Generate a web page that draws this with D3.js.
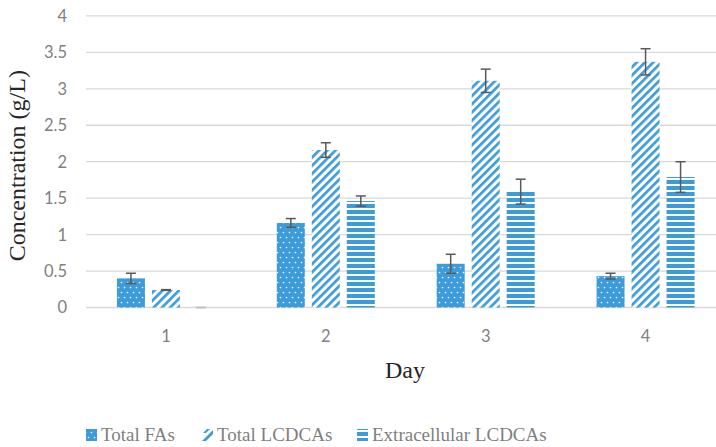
<!DOCTYPE html>
<html>
<head>
<meta charset="utf-8">
<script src="https://cdn.jsdelivr.net/npm/d3@7"></script>
<style>
  html, body { margin: 0; padding: 0; background: #ffffff; }
  svg { display: block; }
</style>
</head>
<body>
<svg id="chart" width="716" height="447"></svg>
<script>
// Days on the x axis
const days = ["1", "2", "3", "4"];
// Series names (legend order)
const seriesNames = ["Total FAs", "Total LCDCAs", "Extracellular LCDCAs"];
// Concentrations (g/L) per day
const totalFAs = [0.40, 1.16, 0.60, 0.43];
const totalLCDCAs = [0.24, 2.16, 3.11, 3.37];
const extracellularLCDCAs = [0.0, 1.46, 1.59, 1.79];
// Standard deviations per day
const totalFAsErr = [0.07, 0.06, 0.13, 0.04];
const totalLCDCAsErr = [0.005, 0.10, 0.16, 0.18];
const extracellularLCDCAsErr = [0.0, 0.07, 0.17, 0.21];
// Y axis ticks
const yTicks = [0, 0.5, 1, 1.5, 2, 2.5, 3, 3.5, 4];

const seriesValues = [totalFAs, totalLCDCAs, extracellularLCDCAs];
const seriesErrors = [totalFAsErr, totalLCDCAsErr, extracellularLCDCAsErr];
const patternIds = ["pat-dots", "pat-diag", "pat-horiz"];

const blue = "#3d9cd8";
const svg = d3.select("#chart");
const defs = svg.append("defs");

// Dotted fill
const pDots = defs.append("pattern").attr("id", "pat-dots")
  .attr("patternUnits", "userSpaceOnUse").attr("width", 6).attr("height", 10);
pDots.append("rect").attr("width", 6).attr("height", 10).attr("fill", blue);
pDots.append("circle").attr("cx", 1.5).attr("cy", 2.5).attr("r", 0.85).attr("fill", "#ffffff").attr("opacity", 0.9);
pDots.append("circle").attr("cx", 4.5).attr("cy", 7.5).attr("r", 0.85).attr("fill", "#ffffff").attr("opacity", 0.9);

// Wide upward diagonal fill
const pDiag = defs.append("pattern").attr("id", "pat-diag")
  .attr("patternUnits", "userSpaceOnUse").attr("width", 5.8).attr("height", 5.8)
  .attr("patternTransform", "rotate(45)");
pDiag.append("rect").attr("width", 5.8).attr("height", 5.8).attr("fill", "#ffffff");
pDiag.append("rect").attr("width", 2.7).attr("height", 5.8).attr("fill", blue);

// Horizontal line fill
const pHoriz = defs.append("pattern").attr("id", "pat-horiz")
  .attr("patternUnits", "userSpaceOnUse").attr("width", 6).attr("height", 6);
pHoriz.append("rect").attr("width", 6).attr("height", 6).attr("fill", "#ffffff");
pHoriz.append("rect").attr("y", 0).attr("width", 6).attr("height", 4).attr("fill", blue);

// Scales
const x = d3.scaleBand().domain(days).range([86, 725.5])
  .paddingInner(0.387).paddingOuter(0.1935);
const xs = d3.scaleBand().domain(d3.range(seriesNames.length)).range([0, x.bandwidth()])
  .paddingInner(0.2).paddingOuter(0);
const y = d3.scaleLinear().domain([0, 4]).range([307.5, 15.9]);

// Gridlines
svg.append("g").selectAll("line").data(yTicks).join("line")
  .attr("x1", 86).attr("x2", 716)
  .attr("y1", d => y(d)).attr("y2", d => y(d))
  .attr("stroke", "#d9d9d9").attr("stroke-width", 1.3);

// Y tick labels
svg.append("g").selectAll("text").data(yTicks).join("text")
  .attr("x", 67).attr("y", d => y(d))
  .attr("dy", "0.36em")
  .attr("text-anchor", "end")
  .attr("font-family", "Lato, 'Open Sans', sans-serif")
  .attr("font-size", 16.5)
  .attr("fill", "#808080")
  .text(d => d);

// X tick labels
svg.append("g").selectAll("text").data(days).join("text")
  .attr("x", d => x(d) + x.bandwidth() / 2)
  .attr("y", 342)
  .attr("text-anchor", "middle")
  .attr("font-family", "Lato, 'Open Sans', sans-serif")
  .attr("font-size", 16.5)
  .attr("fill", "#808080")
  .text(d => d);

// Bars
seriesValues.forEach((vals, si) => {
  svg.append("g").selectAll("rect").data(vals).join("rect")
    .attr("x", (d, i) => x(days[i]) + xs(si))
    .attr("y", d => y(d))
    .attr("width", xs.bandwidth())
    .attr("height", d => y(0) - y(d))
    .attr("fill", `url(#${patternIds[si]})`);
});

// Error bars
seriesValues.forEach((vals, si) => {
  const g = svg.append("g").attr("stroke", "#595959").attr("stroke-width", 1.5).attr("fill", "none");
  vals.forEach((v, i) => {
    const e = seriesErrors[si][i];
    const cx = x(days[i]) + xs(si) + xs.bandwidth() / 2;
    const hi = y(v + e), lo = y(Math.max(0, v - e));
    const col = v === 0 && e === 0 ? "#bfbfbf" : null;
    g.append("line").attr("x1", cx).attr("x2", cx).attr("y1", hi).attr("y2", lo).attr("stroke", col);
    g.append("line").attr("x1", cx - 5).attr("x2", cx + 5).attr("y1", hi).attr("y2", hi).attr("stroke", col);
    g.append("line").attr("x1", cx - 5).attr("x2", cx + 5).attr("y1", lo).attr("y2", lo).attr("stroke", col);
  });
});

// Axis titles
svg.append("text")
  .attr("transform", `translate(25,${(y(0) + y(4)) / 2 + 4}) rotate(-90)`)
  .attr("text-anchor", "middle")
  .attr("font-family", "'Liberation Serif', serif")
  .attr("font-size", 24)
  .attr("fill", "#262626")
  .text("Concentration (g/L)");

svg.append("text")
  .attr("x", 405).attr("y", 378)
  .attr("text-anchor", "middle")
  .attr("font-family", "'Liberation Serif', serif")
  .attr("font-size", 24)
  .attr("fill", "#262626")
  .text("Day");

// Legend
const legendX = [86, 202, 357];
const leg = svg.append("g");
seriesNames.forEach((name, si) => {
  const lx = legendX[si];
  if (si === 1) {
    // slanted stroke swatch
    leg.append("path")
      .attr("d", `M${lx},${441} L${lx + 4},${441} L${lx + 11},${434} L${lx + 11},${430} Z`)
      .attr("fill", blue);
    leg.append("path")
      .attr("d", `M${lx + 4},${433} L${lx + 8},${429} L${lx + 5},${429} L${lx + 1},${433} Z`)
      .attr("fill", blue);
  } else {
    leg.append("rect")
      .attr("x", lx).attr("y", 429).attr("width", 11).attr("height", 12)
      .attr("fill", `url(#${patternIds[si]})`);
  }
  leg.append("text")
    .attr("x", lx + 15).attr("y", 441)
    .attr("font-family", "'Liberation Serif', serif")
    .attr("font-size", 19)
    .attr("fill", "#7f7f7f")
    .text(name);
});
</script>
</body>
</html>
